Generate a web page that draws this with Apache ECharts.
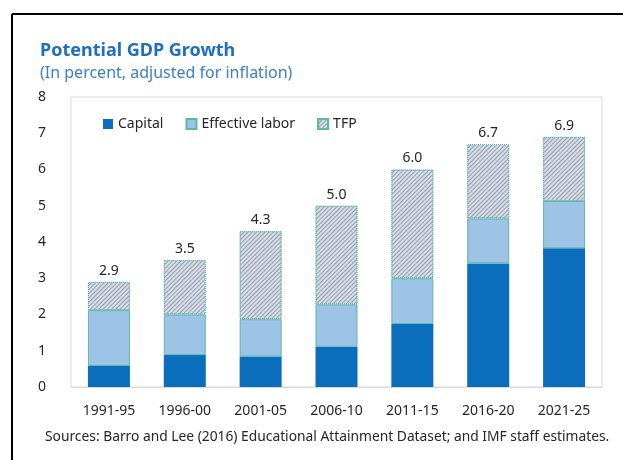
<!DOCTYPE html>
<html>
<head>
<meta charset="utf-8">
<style>
  html, body { margin: 0; padding: 0; background: #fff; }
  #chart { width: 623px; height: 460px; }
</style>
<script src="https://cdn.jsdelivr.net/npm/echarts@6/dist/echarts.min.js"></script>
</head>
<body>
<div id="chart"></div>
<script>
// Five-year periods
const periods = ['1991-95', '1996-00', '2001-05', '2006-10', '2011-15', '2016-20', '2021-25'];
// Contributions to potential growth, percentage points
const capital = [0.58, 0.88, 0.84, 1.11, 1.74, 3.41, 3.83];
const effectiveLabor = [1.54, 1.12, 1.03, 1.17, 1.26, 1.24, 1.30];
// Total potential growth, percent
const totals = [2.9, 3.5, 4.3, 5.0, 6.0, 6.7, 6.9];
// TFP is the remainder of the total
const tfp = totals.map((t, i) => +(t - capital[i] - effectiveLabor[i]).toFixed(2));
const yTicks = [0, 1, 2, 3, 4, 5, 6, 7, 8];

const FONT = 'Noto Sans';
const edge = '#5db8a8';

const chart = echarts.init(document.getElementById('chart'), null, { renderer: 'canvas' });

chart.setOption({
  backgroundColor: '#ffffff',
  animation: false,
  textStyle: { fontFamily: FONT },
  title: [
    {
      text: 'Potential GDP Growth',
      left: 40, top: 42, padding: 0,
      textStyle: { fontFamily: FONT, fontSize: 18, fontWeight: 'bold', color: '#1f6fbf' }
    },
    {
      text: '(In percent, adjusted for inflation)',
      left: 40, top: 65, padding: 0,
      textStyle: { fontFamily: FONT, fontSize: 16, fontWeight: 'normal', color: '#3b80c6' }
    },
    {
      text: 'Sources: Barro and Lee (2016) Educational Attainment Dataset; and IMF staff estimates.',
      left: 45, top: 430, padding: 0,
      textStyle: { fontFamily: FONT, fontSize: 13.8, fontWeight: 'normal', color: '#262626' }
    }
  ],
  legend: {
    left: 103, top: 117, padding: 0,
    icon: 'rect',
    itemWidth: 10, itemHeight: 10, itemGap: 22,
    textStyle: { fontFamily: FONT, fontSize: 14, color: '#262626' },
    data: ['Capital', 'Effective labor', 'TFP']
  },
  grid: {
    left: 71, right: 21, top: 97, bottom: 73,
    show: true, borderColor: '#d9d9d9', borderWidth: 1
  },
  xAxis: {
    type: 'category',
    data: periods,
    axisLine: { show: true, lineStyle: { color: '#d9d9d9' } },
    axisTick: { show: false },
    axisLabel: { fontFamily: FONT, fontSize: 14, color: '#262626', margin: 17 }
  },
  yAxis: {
    type: 'value',
    min: yTicks[0], max: yTicks[yTicks.length - 1], interval: 1,
    splitLine: { show: false },
    axisLine: { show: false },
    axisTick: { show: false },
    axisLabel: { fontFamily: FONT, fontSize: 14, color: '#262626', margin: 25 }
  },
  series: [
    {
      name: 'Capital', type: 'bar', stack: 'g', barWidth: 42,
      data: capital,
      itemStyle: { color: '#0a6ebd', borderColor: '#0a6ebd', borderWidth: 0 }
    },
    {
      name: 'Effective labor', type: 'bar', stack: 'g', barWidth: 42,
      data: effectiveLabor,
      itemStyle: { color: '#9dc3e6', borderColor: edge, borderWidth: 1 }
    },
    {
      name: 'TFP', type: 'bar', stack: 'g', barWidth: 42,
      data: tfp,
      itemStyle: {
        color: '#d8dde6',
        borderColor: edge, borderWidth: 1, borderType: 'dotted',
        decal: {
          symbol: 'rect', symbolSize: 1,
          dashArrayX: [1, 0], dashArrayY: [1, 1.6],
          rotation: -Math.PI / 4,
          color: '#939cb0'
        }
      },
      label: {
        show: true, position: 'top', distance: 4,
        fontFamily: FONT, fontSize: 14, color: '#262626',
        formatter: p => totals[p.dataIndex].toFixed(1)
      }
    }
  ],
  graphic: [
    { type: 'line', shape: { x1: 12, y1: 14, x2: 623, y2: 14 }, style: { stroke: '#000', lineWidth: 2 } },
    { type: 'line', shape: { x1: 12, y1: 14, x2: 12, y2: 460 }, style: { stroke: '#000', lineWidth: 2 } }
  ]
});
</script>
</body>
</html>
